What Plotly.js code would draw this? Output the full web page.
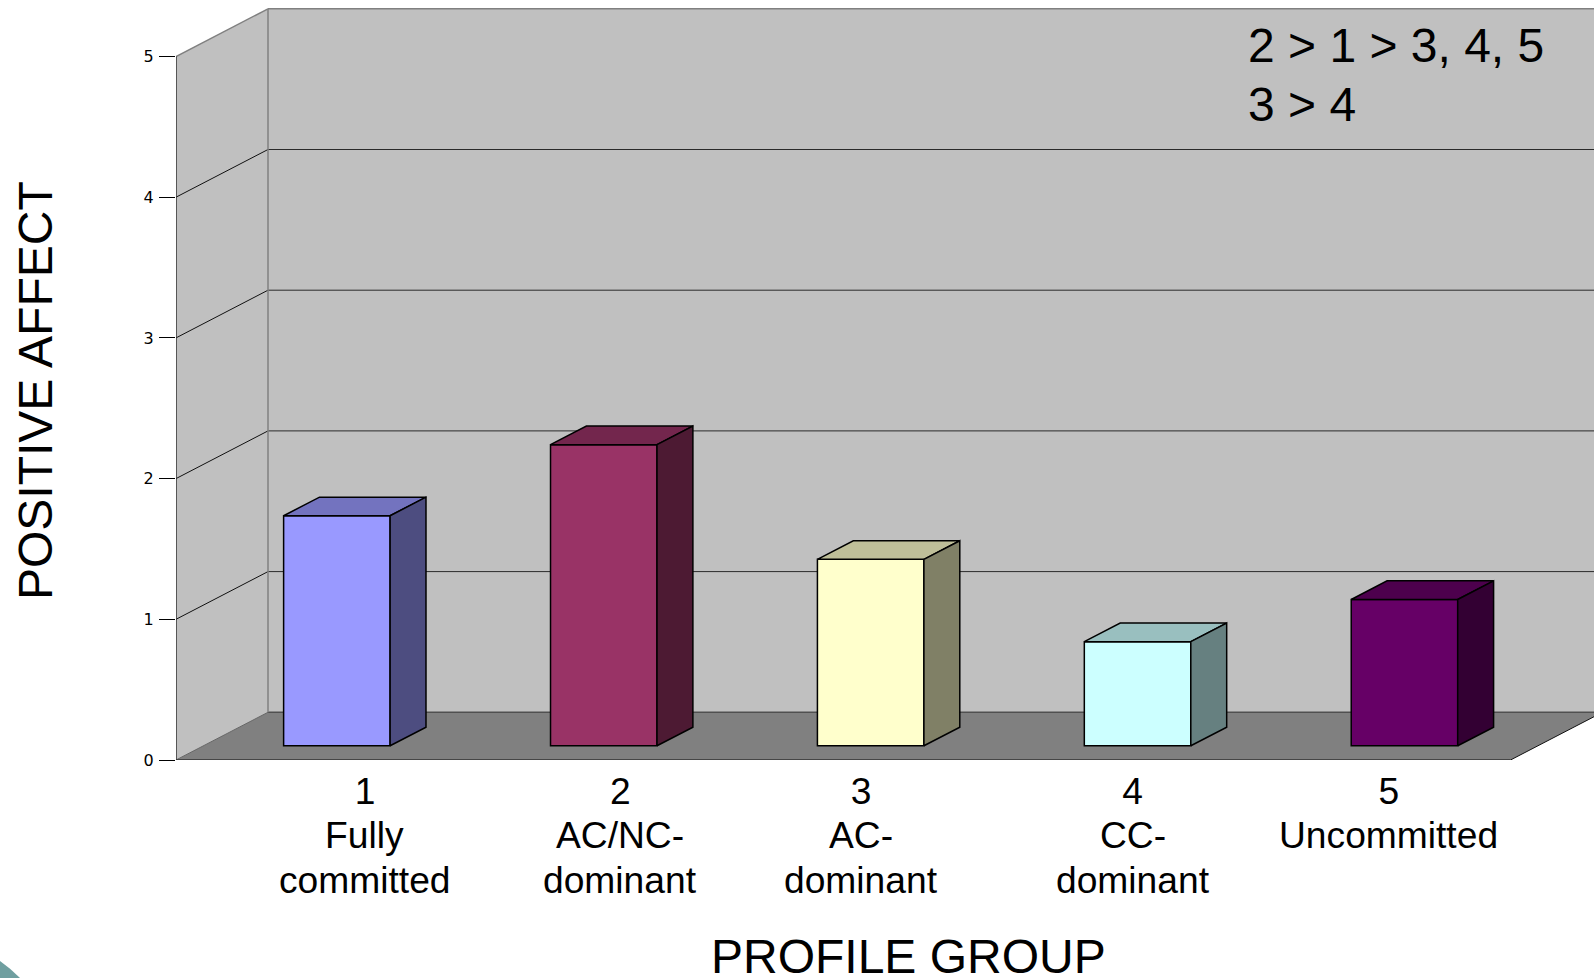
<!DOCTYPE html>
<html>
<head>
<meta charset="utf-8">
<title>Positive affect by profile group</title>
<script src="https://cdn.plot.ly/plotly-3.0.1.min.js"></script>
<style>html,body{margin:0;padding:0;background:#fff;overflow:hidden}</style>
</head>
<body>
<div id="chart" style="width:1594px;height:978px"></div>
<script>
// Values read per profile group
const groups = [1, 2, 3, 4, 5];
const groupNames = [["Fully", "committed"], ["AC/NC-", "dominant"], ["AC-", "dominant"], ["CC-", "dominant"], ["Uncommitted"]];
const positiveAffect = [1.635, 2.14, 1.325, 0.74, 1.04];
const labelPositions = [0.708, 1.665, 2.567, 3.584, 4.544];
const valueTicks = [0, 1, 2, 3, 4, 5];
const comparisons = ["2 > 1 > 3, 4, 5", "3 > 4"];

// Face colours of the columns
const frontColors = ["#9999FF", "#993366", "#FFFFCC", "#CCFFFF", "#660066"];
const topColors = ["#7373BF", "#73264D", "#BFBF99", "#99BFBF", "#4D004D"];
const sideColors = ["#4D4D80", "#4D1A33", "#808066", "#668080", "#330033"];

// Oblique projection: depth d (0 front, 1 back wall) shifts a point along both axes
const depthX = 0.3447, depthY = 0.3390;
const px = (u, d) => u + d * depthX;
const py = (v, d) => v + d * depthY;
const barFront = 0.298, barBack = 0.688, barWidth = 0.399;
const slots = groups.length, maxV = valueTicks[valueTicks.length - 1];

const poly = pts => "M" + pts.map(p => p[0] + "," + p[1]).join("L") + "Z";
const seg = (a, b, color, width) => ({
  type: "line", xref: "x", yref: "y", layer: "below",
  x0: a[0], y0: a[1], x1: b[0], y1: b[1], line: {color, width}
});
const plane = (pts, fill) => ({
  type: "path", xref: "x", yref: "y", layer: "below",
  path: poly(pts), fillcolor: fill, line: {width: 0}
});

const shapes = [
  plane([[px(0, 1), py(0, 1)], [px(slots, 1), py(0, 1)], [px(slots, 1), py(maxV, 1)], [px(0, 1), py(maxV, 1)]], "#C0C0C0"),
  plane([[px(0, 0), py(0, 0)], [px(0, 1), py(0, 1)], [px(0, 1), py(maxV, 1)], [px(0, 0), py(maxV, 0)]], "#C0C0C0"),
  plane([[px(0, 0), py(0, 0)], [px(slots, 0), py(0, 0)], [px(slots, 1), py(0, 1)], [px(0, 1), py(0, 1)]], "#808080")
];
valueTicks.slice(1, -1).forEach(v => {
  shapes.push(seg([px(0, 0), py(v, 0)], [px(0, 1), py(v, 1)], "#111111", 1));
  shapes.push(seg([px(0, 1), py(v, 1)], [px(slots, 1), py(v, 1)], "#2a2a2a", 1));
});
shapes.push(seg([px(0, 1), py(0, 1)], [px(slots, 1), py(0, 1)], "#505050", 1.5));
shapes.push(seg([px(0, 1), py(0, 1)], [px(0, 1), py(maxV, 1)], "#808080", 1.5));
shapes.push(seg([px(0, 0), py(maxV, 0)], [px(0, 1), py(maxV, 1)], "#808080", 1.5));
shapes.push(seg([px(0, 1), py(maxV, 1)], [px(slots, 1), py(maxV, 1)], "#808080", 1.5));
shapes.push(seg([px(0, 0), py(0, 0)], [px(0, 1), py(0, 1)], "#666666", 1));
shapes.push(seg([px(slots, 0), py(0, 0)], [px(slots, 1), py(0, 1)], "#111111", 1));

// Slide corner ornament, in paper units of the plot area
const plotL = 176, plotT = 0, plotB = 760, plotW = 1594 - plotL, plotH = plotB - plotT;
const paperX = p => (p - plotL) / plotW;
const paperY = p => (plotB - p) / plotH;
shapes.push({
  type: "path", xref: "paper", yref: "paper", layer: "above", fillcolor: "#6F9FA0", line: {width: 0},
  path: `M${paperX(0)},${paperY(961)}Q${paperX(10)},${paperY(968)} ${paperX(20)},${paperY(978)}L${paperX(0)},${paperY(978)}Z`
});

const traces = [];

// Front faces are ordinary bars standing on the shifted floor level
traces.push({
  type: "bar",
  x: groups.map((g, i) => px(i + 0.5, barFront)),
  y: positiveAffect,
  base: positiveAffect.map(() => py(0, barFront)),
  width: barWidth,
  marker: {color: frontColors, line: {color: "#000", width: 1.5}},
  hoverinfo: "skip"
});

// Top and side faces follow from the same values
positiveAffect.forEach((v, i) => {
  const l = i + 0.5 - barWidth / 2, r = i + 0.5 + barWidth / 2;
  const faces = [
    [[px(l, barFront), px(r, barFront), px(r, barBack), px(l, barBack), px(l, barFront)],
     [py(v, barFront), py(v, barFront), py(v, barBack), py(v, barBack), py(v, barFront)], topColors[i]],
    [[px(r, barFront), px(r, barBack), px(r, barBack), px(r, barFront), px(r, barFront)],
     [py(0, barFront), py(0, barBack), py(v, barBack), py(v, barFront), py(0, barFront)], sideColors[i]]
  ];
  faces.forEach(f => traces.push({
    type: "scatter", mode: "lines", x: f[0], y: f[1], fill: "toself", fillcolor: f[2],
    line: {color: "#000", width: 1.5}, cliponaxis: false, hoverinfo: "skip"
  }));
});

// Front edges of the box, which sit exactly on the plot boundary
traces.push({
  type: "scatter", mode: "lines",
  x: [px(0, 0), px(0, 0), px(slots, 0)], y: [py(maxV, 0), py(0, 0), py(0, 0)],
  line: {color: "#333333", width: 1.5}, cliponaxis: false, hoverinfo: "skip"
});

const textFont = (size) => ({family: "Liberation Sans, Arial, sans-serif", size, color: "#000"});
const annotations = [];
const pixelNote = (text, x, y, size, extra) => Object.assign({
  text, xref: "paper", yref: "paper", x: paperX(x), y: paperY(y),
  xanchor: "center", yanchor: "middle", showarrow: false, font: textFont(size)
}, extra || {});

groupNames.forEach((lines, i) => {
  lines.forEach((t, j) => {
    annotations.push({
      text: t, xref: "x", yref: "paper", x: labelPositions[i], y: paperY(835 + j * 45),
      xanchor: "center", yanchor: "middle", showarrow: false, font: textFont(37.2)
    });
  });
});
comparisons.forEach((t, j) => annotations.push(pixelNote(t, 1246, 46 + j * 58.5, 48, {xanchor: "left"})));
annotations.push(pixelNote("PROFILE GROUP", 908, 956.5, 48));
annotations.push(pixelNote("POSITIVE AFFECT", 35, 391, 48, {textangle: -90}));

const layout = {
  width: 1594, height: 978,
  margin: {l: plotL, r: 0, t: plotT, b: 978 - plotB, pad: 0},
  paper_bgcolor: "#fff", plot_bgcolor: "rgba(0,0,0,0)",
  showlegend: false, hovermode: false, barmode: "overlay",
  xaxis: {
    range: [0, plotW / 266.9], tickmode: "array",
    tickvals: labelPositions, ticktext: groups.map(String),
    showgrid: false, zeroline: false, showline: false,
    ticks: "", ticklabelstandoff: 6, tickangle: 0, tickfont: textFont(37.2)
  },
  yaxis: {
    range: [0, plotH / 140.7], tickmode: "array",
    tickvals: valueTicks, ticktext: valueTicks.map(String),
    showgrid: false, zeroline: false, showline: false,
    ticks: "outside", ticklen: 16, tickcolor: "#000", tickwidth: 1,
    ticklabelstandoff: 2,
    tickfont: {family: "DejaVu Sans, sans-serif", size: 16, color: "#000"}
  },
  shapes, annotations
};

Plotly.newPlot("chart", traces, layout, {displayModeBar: false, staticPlot: true});
</script>
</body>
</html>
